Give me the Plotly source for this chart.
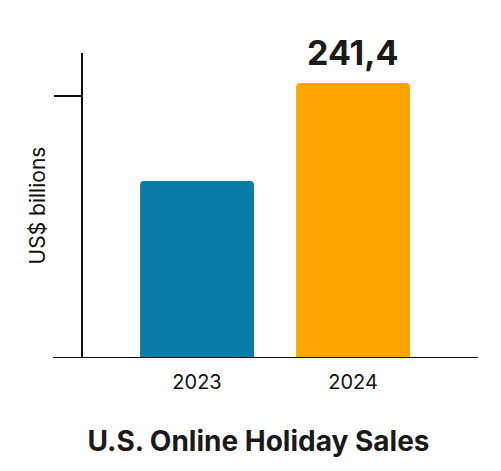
import plotly.graph_objects as go

years = ["2023", "2024"]
sales = [155.4, 241.4]
colors = ["#0A7BAA", "#FFA500"]
positions = [0, 1]

fig = go.Figure()
fig.add_trace(go.Bar(
    x=positions, y=sales, width=0.73,
    marker=dict(color=colors, line=dict(width=0), cornerradius=4),
    hoverinfo="skip",
))

# value label on the latest bar only
fig.add_annotation(
    x=positions[1], y=sales[1], text=f"{sales[1]:.1f}".replace(".", ","),
    showarrow=False, yanchor="bottom", yshift=8,
    font=dict(size=34, color="#1a1a1a", family="Inter", weight="bold"),
)

# baseline extending left past the axis
fig.add_shape(type="line", xref="paper", yref="y", x0=-0.076, x1=1, y0=0, y1=0,
              line=dict(color="#111", width=2))

fig.update_layout(
    width=501, height=471,
    margin=dict(l=75, r=31, t=45, b=121),
    plot_bgcolor="white", paper_bgcolor="white",
    showlegend=False,
    font=dict(family="Inter", color="#1a1a1a"),
    title=dict(text="<b>U.S. Online Holiday Sales</b>", x=0.5, xanchor="center",
               y=0.93 - 0.85, yanchor="middle", yref="container",
               font=dict(size=28, color="#1a1a1a")),
    xaxis=dict(range=[-0.731, 1.801], tickvals=positions, ticktext=years,
               showline=False, showgrid=False, zeroline=False, ticks="",
               tickfont=dict(size=20, color="#111"), ticklabelstandoff=10,
               automargin=False),
    yaxis=dict(range=[0, 267.7], showline=True, linecolor="#111", linewidth=2,
               showgrid=False, zeroline=False, tickvals=[230], ticktext=[""],
               ticks="outside", ticklen=27, tickwidth=2, tickcolor="#111",
               automargin=False,
               title=dict(text="US$ billions", font=dict(size=21, color="#111"), standoff=0)),
)

fig.write_html("out.html")
